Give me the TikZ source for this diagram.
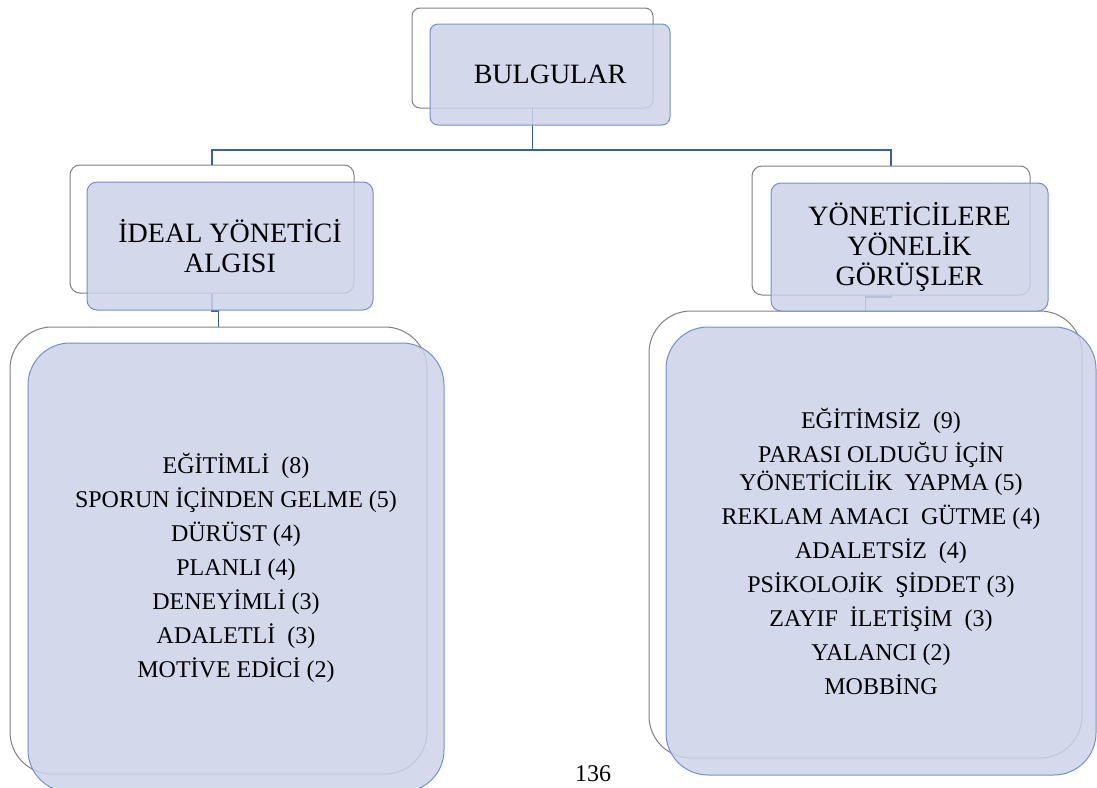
\documentclass[tikz,border=0pt]{standalone}
\usepackage{fontspec}
\setmainfont{Liberation Serif}
\definecolor{frontfill}{RGB}{204,211,231}
\definecolor{frontline}{RGB}{112,144,208}
\definecolor{backline}{RGB}{128,128,128}
\definecolor{connline}{RGB}{58,93,168}
\tikzset{
  backbox/.style={draw=backline, line width=1pt, fill=white, inner sep=0pt, outer sep=0pt, anchor=north west},
  frontbox/.style={draw=frontline, line width=1pt, fill=frontfill, fill opacity=0.85, text opacity=1, inner sep=0pt, outer sep=0pt, align=center},
  conn/.style={draw=connline, line width=1.8pt},
  titletext/.style={font=\fontsize{28}{30}\selectfont},
  listtext/.style={font=\fontsize{24}{34}\selectfont}
}
\begin{document}
\begin{tikzpicture}[x=1pt,y=-1pt]
\useasboundingbox (0,0) rectangle (1097,787);
% back boxes
\node[backbox, rounded corners=8pt, minimum width=241pt, minimum height=100pt] (b0) at (412,8) {};
\node[backbox, rounded corners=10pt, minimum width=284pt, minimum height=128pt] (b1) at (70,165) {};
\node[backbox, rounded corners=10pt, minimum width=278pt, minimum height=129pt] (b2) at (752,166) {};
\node[backbox, rounded corners=42pt, minimum width=417pt, minimum height=447pt] (b3) at (10,327) {};
\node[backbox, rounded corners=42pt, minimum width=433pt, minimum height=447pt] (b4) at (649,311) {};
% connectors
\draw[conn] (b0.south) -- ++(0,42) -| (b1.north);
\draw[conn] (b0.south) -- ++(0,42) -| (b2.north);
\draw[conn] (b1.south) -- ++(0,18) -| (b3.north);
\draw[conn] (b2.south) -- ++(0,2) -| (b4.north);
% front boxes
\node[frontbox, titletext, rounded corners=8pt, minimum width=240pt, minimum height=101pt] (f0) at (550,74.5) {BULGULAR};
\node[frontbox, titletext, rounded corners=10pt, minimum width=286pt, minimum height=128pt] (f1) at (230,246) {İDEAL YÖNETİCİ\\ALGISI};
\node[frontbox, titletext, rounded corners=10pt, minimum width=277pt, minimum height=128pt] (f2) at (909.5,247) {YÖNETİCİLERE\\YÖNELİK\\GÖRÜŞLER};
\node[frontbox, listtext, rounded corners=42pt, minimum width=416pt, minimum height=449pt] (f3) at (236,567.5) {EĞİTİMLİ\ \ (8)\\SPORUN İÇİNDEN GELME (5)\\DÜRÜST (4)\\PLANLI (4)\\DENEYİMLİ (3)\\ADALETLİ\ \ (3)\\MOTİVE EDİCİ (2)};
\node[frontbox, listtext, rounded corners=42pt, minimum width=430pt, minimum height=448pt] (f4) at (881,551) {EĞİTİMSİZ\ \ (9)\\PARASI OLDUĞU İÇİN\\[-6pt]YÖNETİCİLİK\ \ YAPMA (5)\\REKLAM AMACI\ \ GÜTME (4)\\ADALETSİZ\ \ (4)\\PSİKOLOJİK\ \ ŞİDDET (3)\\ZAYIF\ \ İLETİŞİM\ \ (3)\\YALANCI (2)\\MOBBİNG};
% page number
\node[font=\fontsize{24}{28}\selectfont, anchor=base, inner sep=0pt] (pg) at (593,781) {136};
\end{tikzpicture}
\end{document}
